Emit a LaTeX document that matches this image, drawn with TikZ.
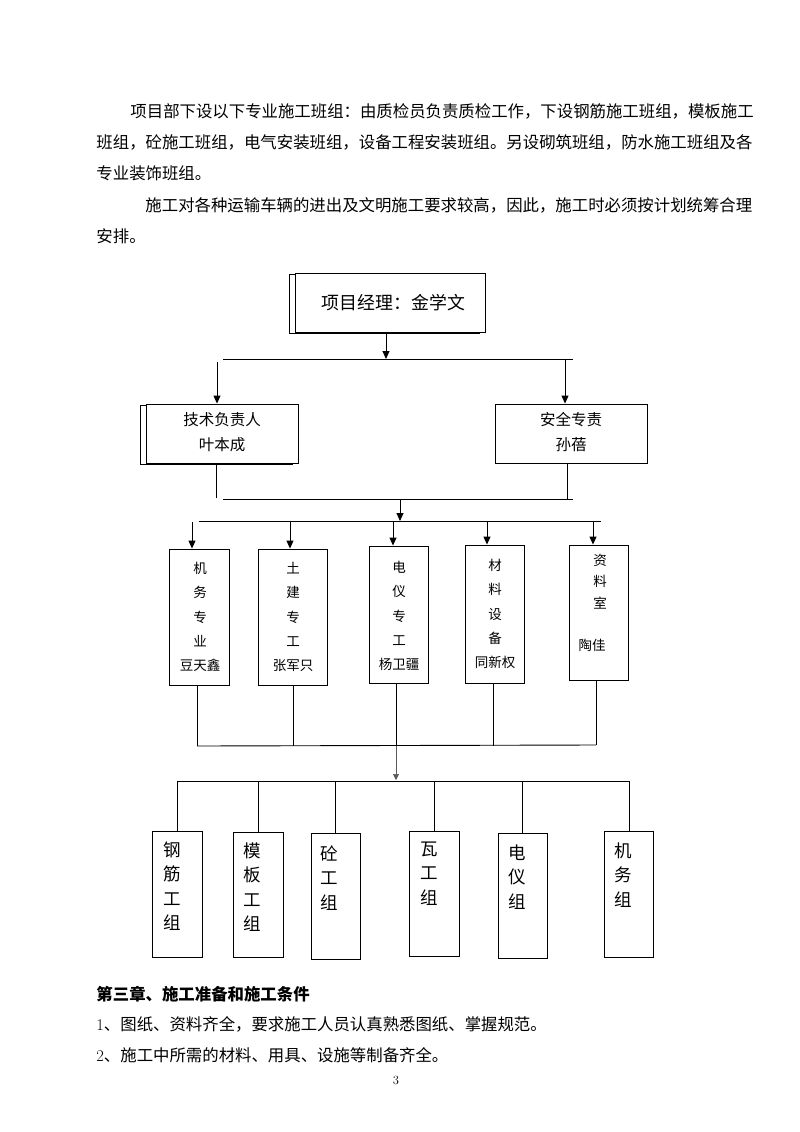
\documentclass[tikz,border=0pt]{standalone}
\usepackage{fontspec}
\newfontfamily\cjk{Noto Sans CJK SC}
\usepackage{tikz}
\usetikzlibrary{arrows.meta, positioning, calc, shadows}
\definecolor{linegray}{RGB}{90,90,90}

\begin{document}
\begin{tikzpicture}[x=1pt, y=-1pt, line width=0.9pt,
  box/.style={draw, fill=white, inner sep=0pt},
  shadowed/.style={copy shadow={shadow xshift=-6pt, shadow yshift=-1.5pt}},
  arr/.style={-{Triangle[length=8pt, width=7pt]}},
  para/.style={anchor=west, inner sep=0pt, font=\cjk\fontsize{16.4}{20}\selectfont},
  midtext/.style={anchor=north, inner sep=0pt, align=center, font=\cjk\fontsize{13.5}{24.2}\selectfont},
  teamtext/.style={anchor=north, inner sep=0pt, align=center, font=\cjk\fontsize{17.5}{24.6}\selectfont}]
  \useasboundingbox (0,0) rectangle (800,1132);
  \fill[white] (0,0) rectangle (800,1132);

  % text above the chart
  \node[para] (p1) at (130,111) {项目部下设以下专业施工班组：由质检员负责质检工作，下设钢筋施工班组，模板施工};
  \node[para] (p2) at (96,142) {班组，砼施工班组，电气安装班组，设备工程安装班组。另设砌筑班组，防水施工班组及各};
  \node[para] (p3) at (96,173) {专业装饰班组。};
  \node[para] (p4) at (145,205) {施工对各种运输车辆的进出及文明施工要求较高，因此，施工时必须按计划统筹合理};
  \node[para] (p5) at (96,236) {安排。};

  % manager and leads
  \node[box, shadowed, minimum width=190pt, minimum height=59pt, font=\cjk\fontsize{17.9}{20}\selectfont] (pm) at (390,302.5) {\hspace*{7pt}项目经理：金学文};
  \node[box, shadowed, minimum width=152pt, minimum height=59pt, align=center, font=\cjk\fontsize{15.5}{25}\selectfont] (tech) at (222,433.5) {技术负责人\\叶本成\rule[-4pt]{0pt}{1pt}};
  \node[box, minimum width=152pt, minimum height=59pt, align=center, font=\cjk\fontsize{15.5}{25}\selectfont] (safe) at (571,433.5) {安全专责\\孙蓓\rule[-4pt]{0pt}{1pt}};

  % staff
  \node[box, minimum width=60pt, minimum height=136pt] (m1) at (199,617) {};
  \node[box, minimum width=69pt, minimum height=136pt] (m2) at (292.5,617) {};
  \node[box, minimum width=59pt, minimum height=137pt] (m3) at (398.5,614.5) {};
  \node[box, minimum width=59pt, minimum height=138pt] (m4) at (494.5,614) {};
  \node[box, minimum width=59pt, minimum height=135pt] (m5) at (598.5,612.5) {};
  \node[midtext] (m1t) at (200,562) {机\\务\\专\\业\\豆天鑫};
  \node[midtext] (m2t) at (293,562) {土\\建\\专\\工\\张军只};
  \node[midtext] (m3t) at (399,561) {电\\仪\\专\\工\\杨卫疆};
  \node[midtext] (m4t) at (495,559) {材\\料\\设\\备\\同新权};
  \node[midtext, font=\cjk\fontsize{13.5}{21.2}\selectfont] (m5t) at (600,554) {资\\料\\室\\\mbox{}\\\hspace*{-16pt}陶佳};

  % teams
  \node[box, minimum width=50pt, minimum height=126pt] (g1) at (177,894) {};
  \node[box, minimum width=50pt, minimum height=125pt] (g2) at (258,894.5) {};
  \node[box, minimum width=49pt, minimum height=126pt] (g3) at (335.5,896) {};
  \node[box, minimum width=50pt, minimum height=125pt] (g4) at (434,893.5) {};
  \node[box, minimum width=49pt, minimum height=125pt] (g5) at (522.5,895.5) {};
  \node[box, minimum width=49pt, minimum height=126pt] (g6) at (628.5,894) {};
  \node[teamtext] (g1t) at (172,841) {钢\\筋\\工\\组};
  \node[teamtext] (g2t) at (252,842) {模\\板\\工\\组};
  \node[teamtext] (g3t) at (329,845) {砼\\工\\组};
  \node[teamtext] (g4t) at (429,841) {瓦\\工\\组};
  \node[teamtext] (g5t) at (517,844) {电\\仪\\组};
  \node[teamtext] (g6t) at (623,842) {机\\务\\组};

  % manager to leads
  \coordinate (b1w) at (223,359);
  \coordinate (b1e) at (573,359);
  \coordinate (b1m) at (386,359);
  \draw (b1w) -- (b1e);
  \draw[arr] (pm.south -| b1m) -- (b1m);
  \coordinate (t0) at (217,362);
  \draw[arr] (t0) -- (t0 |- tech.north);
  \coordinate (s0) at (565,359);
  \draw[arr] (s0) -- (s0 |- safe.north);

  % leads to staff
  \coordinate (t1) at (216,498);
  \coordinate (s1) at (567,499);
  \draw (t1 |- tech.south) -- (t1);
  \draw (s1 |- safe.south) -- (s1);
  \coordinate (b2w) at (223,499);
  \coordinate (b2e) at (573,499);
  \coordinate (b2m) at (400,499);
  \draw (b2w) -- (b2e);
  \coordinate (b3w) at (199,521);
  \coordinate (b3e) at (601,521);
  \coordinate (b3m) at (400,521);
  \draw (b3w) -- (b3e);
  \draw[arr] (b2m) -- (b3m);
  \draw[arr] (192,522) -- (192,522 |- m1.north);
  \draw[arr] (290,522) -- (290,522 |- m2.north);
  \draw[arr] (393,522) -- (393,522 |- m3.north);
  \draw[arr] (487,522) -- (487,522 |- m4.north);
  \draw[arr] (593,522) -- (593,522 |- m5.north);

  % staff to teams
  \coordinate (b4w) at (197,746);
  \coordinate (b4e) at (596,745);
  \coordinate (b4m) at (396,746);
  \draw (b4w) -- (b4e);
  \draw (b4w |- m1.south) -- (b4w);
  \draw (293,746 |- m2.south) -- (293,746);
  \draw (b4m |- m3.south) -- (b4m);
  \draw (493,746 |- m4.south) -- (493,746);
  \draw (b4e |- m5.south) -- (b4e);
  \coordinate (b5w) at (177,781);
  \coordinate (b5e) at (629,781);
  \coordinate (b5m) at (396,780);
  \draw[linegray, line width=0.6pt, -{Triangle[length=6pt, width=6pt]}] (b4m) -- (b5m);
  \draw (b5w) -- (b5e);
  \draw (b5w) -- (b5w |- g1.north);
  \draw (258,781) -- (258,781 |- g2.north);
  \draw (335,781) -- (335,781 |- g3.north);
  \draw (434,781) -- (434,781 |- g4.north);
  \draw (522,781) -- (522,781 |- g5.north);
  \draw (b5e) -- (b5e |- g6.north);

  % text below the chart
  \node[para, font=\cjk\bfseries\fontsize{16.4}{20}\selectfont] (h3) at (96,994) {第三章、施工准备和施工条件};
  \node[para] (l1) at (96,1024) {{\rmfamily 1}、图纸、资料齐全，要求施工人员认真熟悉图纸、掌握规范。};
  \node[para] (l2) at (96,1055) {{\rmfamily 2}、施工中所需的材料、用具、设施等制备齐全。};
  \node[font=\fontsize{12.5}{14}\selectfont] (pg) at (396,1080) {3};
\end{tikzpicture}
\end{document}
